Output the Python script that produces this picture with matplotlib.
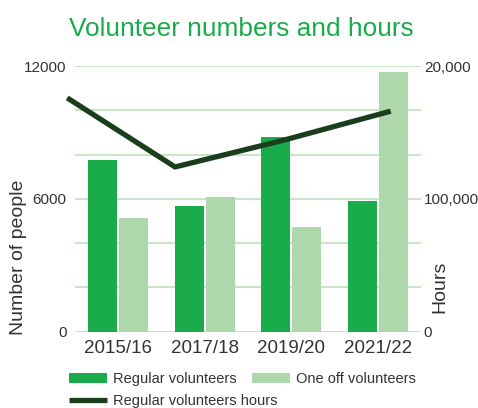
import matplotlib
matplotlib.use("Agg")
import matplotlib.pyplot as plt
import numpy as np

categories = ["2015/16", "2017/18", "2019/20", "2021/22"]
regular = [7750, 5680, 8790, 5900]
one_off = [5130, 6080, 4730, 11730]
hours = [176000, 124000, 144000, 166000]
left_ticks = [0, 6000, 12000]
left_labels = ["0", "6000", "12000"]
right_ticks = [0, 100000, 200000]
right_labels = ["0", "100,000", "20,000"]

C_DARK = "#1aab4b"
C_LIGHT = "#acd8ac"
C_LINE = "#1a3d1c"
C_GRID = "#c6e6c6"
C_TEXT = "#333333"

plt.rcParams['font.family'] = ['Liberation Sans', 'DejaVu Sans']

fig = plt.figure(figsize=(4.78, 4.08), dpi=100)
ax = fig.add_axes([75/478, 1-331.7/408, (421-75)/478, (331.7-66)/408])

x = np.arange(len(categories))
w = 0.335
gap = 0.02
b1 = ax.bar(x - w/2 - gap/2, regular, w, color=C_DARK, zorder=2, label="Regular volunteers")
b2 = ax.bar(x + w/2 + gap/2, one_off, w, color=C_LIGHT, zorder=2, label="One off volunteers")
ax.set_xlim(-0.5, 3.5)
ax.set_ylim(0, 12000)
ax.set_yticks(left_ticks)
ax.set_yticklabels(left_labels, fontsize=11, color=C_TEXT)
for yv in np.arange(0, 12001, 2000):
    ax.axhline(yv, color=C_GRID, lw=1.5, zorder=1)
ax.set_xticks(x)
ax.set_xticklabels(categories, fontsize=13.5, color=C_TEXT)
ax.tick_params(length=0, pad=6)
for s in ax.spines.values():
    s.set_visible(False)
ax.set_ylabel("Number of people", fontsize=14, color=C_TEXT)
ax.yaxis.set_label_coords(-0.139, 0.28)

ax2 = ax.twinx()
ax2.set_ylim(0, 200000)
ax2.set_yticks(right_ticks)
ax2.set_yticklabels(right_labels, fontsize=11, color=C_TEXT)
ax2.tick_params(length=0, pad=2)
for s in ax2.spines.values():
    s.set_visible(False)
ax2.set_ylabel("Hours", fontsize=14, color=C_TEXT)
ax2.yaxis.set_label_coords(1.029, 0.168)

# line spans slightly wider than the bar groups, as in the reference
lx = -0.59 + x * (3.15 + 0.59) / 3
ln, = ax2.plot(lx, hours, color=C_LINE, lw=3.8, clip_on=False, zorder=3,
               solid_capstyle="butt", label="Regular volunteers hours")

fig.text(0.505, 0.929, "Volunteer numbers and hours", ha="center", va="center",
         fontsize=18.9, color=C_DARK)

leg1 = fig.legend([b1, b2], ["Regular volunteers", "One off volunteers"], ncol=2,
                  loc="center left", bbox_to_anchor=(69/478, 1-379/408),
                  frameon=False, fontsize=10.5, handlelength=2.6, handleheight=0.75,
                  columnspacing=1.0, handletextpad=0.45, borderpad=0, borderaxespad=0)
leg2 = fig.legend([ln], ["Regular volunteers hours"],
                  loc="center left", bbox_to_anchor=(69/478, 1-401/408),
                  frameon=False, fontsize=10.5, handlelength=2.6,
                  handletextpad=0.45, borderpad=0, borderaxespad=0)
for lg in (leg1, leg2):
    for t in lg.get_texts():
        t.set_color(C_TEXT)

fig.savefig("out.png", dpi=100)
